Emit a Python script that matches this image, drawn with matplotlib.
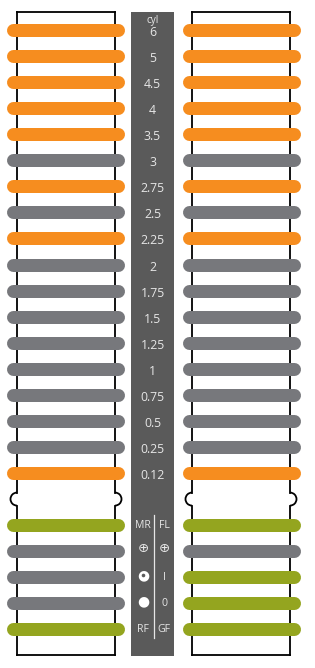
import matplotlib
matplotlib.use("Agg")
import matplotlib.pyplot as plt
from matplotlib.patches import Rectangle, Arc

# ---- data ----
cyl_labels = ['6', '5', '4.5', '4', '3.5', '3', '2.75', '2.5', '2.25', '2',
              '1.75', '1.5', '1.25', '1', '0.75', '0.5', '0.25', '0.12']
# 'O' = orange (selected), 'N' = grey (not selected)
left_cyl = ['O', 'O', 'O', 'O', 'O', 'N', 'O', 'N', 'O', 'N',
            'N', 'N', 'N', 'N', 'N', 'N', 'N', 'O']
right_cyl = ['O', 'O', 'O', 'O', 'O', 'N', 'O', 'N', 'O', 'N',
             'N', 'N', 'N', 'N', 'N', 'N', 'N', 'O']
left_opt_labels = ['MR', '\u2295', '\u25c9', '\u25cf', 'RF']
right_opt_labels = ['FL', '\u2295', 'I', '0', 'GF']
# 'G' = green (selected), 'N' = grey
left_opt = ['G', 'N', 'N', 'N', 'G']
right_opt = ['G', 'N', 'G', 'G', 'G']
header = 'cyl'

colors = {'O': '#F68D1F', 'N': '#77787C', 'G': '#94A51F'}
panel_color = '#5A5A5A'
text_color = '#E6E6E6'

W, H = 315, 668
fig = plt.figure(figsize=(W / 100, H / 100), dpi=100)
ax = fig.add_axes([0, 0, 1, 1])
ax.set_xlim(0, W)
ax.set_ylim(H, 0)
ax.axis('off')

row0, step = 30.0, 26.06
def row_y(i):
    return row0 + i * step

n_cyl = len(cyl_labels)
notch_y = row_y(n_cyl)
opt_start = n_cyl + 1

top, bottom = 12, 655
lw_px = 13
lw_pt = lw_px * 72 / 100

def draw_column(x0, x1, bar_x0, bar_x1, cyl_states, opt_states):
    lw = 1.3
    ax.plot([x0, x1], [top, top], color='black', lw=lw, zorder=1)
    ax.plot([x0, x1], [bottom, bottom], color='black', lw=lw, zorder=1)
    r = 6.5
    for xe, d in ((x0, -1), (x1, 1)):
        ax.plot([xe, xe], [top, notch_y - r], color='black', lw=lw, zorder=1)
        ax.plot([xe, xe], [notch_y + r, bottom], color='black', lw=lw, zorder=1)
        if d < 0:
            arc = Arc((xe, notch_y), 2 * r, 2 * r, theta1=90, theta2=270,
                      color='black', lw=lw, zorder=1)
        else:
            arc = Arc((xe, notch_y), 2 * r, 2 * r, theta1=-90, theta2=90,
                      color='black', lw=lw, zorder=1)
        ax.add_patch(arc)
    for i, s in enumerate(cyl_states):
        y = row_y(i)
        ax.plot([bar_x0 + lw_px / 2, bar_x1 - lw_px / 2], [y, y], color=colors[s],
                lw=lw_pt, solid_capstyle='round', zorder=2)
    for j, s in enumerate(opt_states):
        y = row_y(opt_start + j)
        ax.plot([bar_x0 + lw_px / 2, bar_x1 - lw_px / 2], [y, y], color=colors[s],
                lw=lw_pt, solid_capstyle='round', zorder=2)

draw_column(17, 115, 6, 124, left_cyl, left_opt)
draw_column(192, 290, 182, 300, right_cyl, right_opt)

# central panel
ax.add_patch(Rectangle((131, top), 43, bottom + 1 - top, facecolor=panel_color,
                       edgecolor='none', zorder=1))
cx = 152.5
fam = ['Open Sans', 'DejaVu Sans']
ax.text(cx, 20, header, color=text_color, fontsize=7.2, ha='center', va='center',
        family=fam, zorder=3)
for i, lab in enumerate(cyl_labels):
    ax.text(cx, row_y(i) + 2.5, lab, color=text_color, fontsize=8.8, ha='center',
            va='center', family=fam, zorder=3)

ax.plot([154.3, 154.3], [515, 638], color=text_color, lw=0.9, zorder=3)
for j, (ll, rl) in enumerate(zip(left_opt_labels, right_opt_labels)):
    y = row_y(opt_start + j)
    for x, lab in ((143, ll), (164, rl)):
        if lab == '\u2295':
            ax.text(x, y - 2.5, lab, color=text_color, fontsize=9.5, ha='center',
                    va='center', family=['DejaVu Sans'], zorder=3)
        elif lab == '\u25c9':
            ax.text(x, y - 2, '\u25cf', color='white', fontsize=10, ha='center',
                    va='center', family=['DejaVu Sans'], zorder=3)
            ax.plot([x], [y - 2], 'o', color=panel_color, ms=2.6, mew=0, zorder=4)
        elif lab == '\u25cf':
            ax.text(x, y - 2, lab, color='white', fontsize=10, ha='center',
                    va='center', family=['DejaVu Sans'], zorder=3)
        else:
            ax.text(x, y, lab, color=text_color, fontsize=7.6, ha='center',
                    va='center', family=fam, zorder=3)

fig.savefig('out.png', dpi=100, facecolor='white')
